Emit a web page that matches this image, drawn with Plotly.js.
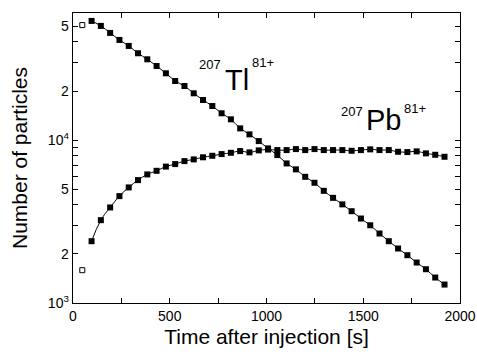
<!DOCTYPE html>
<html>
<head>
<meta charset="utf-8">
<script src="https://cdn.plot.ly/plotly-3.0.1.min.js"></script>
<style>html,body{margin:0;padding:0;background:#fff;}#chart{width:477px;height:356px;}</style>
</head>
<body>
<div id="chart"></div>
<script>
// Time after injection [s]
const timeFilled = [96,144,192,240,288,336,384,432,480,528,576,624,672,720,768,816,864,912,960,1008,
  1056,1104,1152,1200,1248,1296,1344,1392,1440,1488,1536,1584,1632,1680,1728,1776,1824,1872,1920];
const timeOpen = [48];
// 207Tl81+ counts
const tlCounts = [53870,50210,45470,41180,37830,34110,31330,28500,25700,23050,21470,19370,17620,16180,14600,
  13410,11800,10840,9860,8890,8090,7190,6610,5950,5470,4880,4420,4030,3660,3300,3000,2670,2395,2160,1965,
  1772,1612,1433,1298];
// 207Pb81+ counts
const pbCounts = [2395,3224,3859,4529,5122,5679,6155,6477,6874,7122,7430,7610,7840,8010,8204,8356,8560,8404,
  8645,8744,8682,8682,8806,8682,8806,8682,8682,8682,8596,8682,8768,8682,8682,8477,8440,8524,8286,8124,7897];
// open squares at first time bin
const tlOpen = [50800];
const pbOpen = [1590];

const xTickVals = [0,250,500,750,1000,1250,1500,1750,2000];
const xTickText = ["0","","500","","1000","","1500","","2000"];
const yTickVals = [1000,2000,3000,4000,5000,6000,7000,8000,9000,10000,20000,30000,40000,50000];
const yTickText = ["10<sup>3</sup>","2","","","5","","","","","10<sup>4</sup>","2","","","5"];

const FONT = "Liberation Sans, Arial, sans-serif";

const filledMarker = {symbol:'square', size:6, color:'#000'};
const traces = [
  {x: timeFilled, y: tlCounts, mode:'lines+markers', line:{color:'#000', width:1, shape:'spline', smoothing:1}, marker:filledMarker, showlegend:false},
  {x: timeFilled, y: pbCounts, mode:'lines+markers', line:{color:'#000', width:1, shape:'spline', smoothing:1.3}, marker:filledMarker, showlegend:false},
  {x: timeOpen.concat(timeOpen), y: tlOpen.concat(pbOpen), mode:'markers', marker:{symbol:'square-open', size:5, color:'#000', line:{width:1}}, showlegend:false}
];

function lbl(x, yv, text, size, anchor){
  return {x:x, y:Math.log10(yv), xref:'x', yref:'y', text:text, showarrow:false,
    xanchor:anchor || 'center', yanchor:'middle', borderpad:0,
    font:{family:FONT, size:size, color:'#000'}};
}

const layout = {
  width:477, height:356,
  margin:{l:73, r:17, t:13, b:53},
  paper_bgcolor:'#fff', plot_bgcolor:'#fff',
  font:{family:FONT, color:'#000'},
  xaxis:{
    range:[0,2000], showgrid:false, zeroline:false,
    showline:true, linecolor:'#000', linewidth:1.3, mirror:'ticks',
    ticks:'inside', ticklen:5, tickcolor:'#000', tickwidth:1,
    tickmode:'array', tickvals:xTickVals, ticktext:xTickText,
    tickfont:{family:FONT, size:14, color:'#000'},
    title:{text:'Time after injection [s]', font:{family:FONT, size:21, color:'#000'}, standoff:6}
  },
  yaxis:{
    type:'log', range:[3, 4.78], showgrid:false, zeroline:false,
    showline:true, linecolor:'#000', linewidth:1.3, mirror:'ticks',
    ticks:'inside', ticklen:5, tickcolor:'#000', tickwidth:1,
    tickmode:'array', tickvals:yTickVals, ticktext:yTickText,
    tickfont:{family:FONT, size:14, color:'#000'},
    title:{text:'Number of particles', font:{family:FONT, size:21, color:'#000'}, standoff:14}
  },
  annotations:[
    lbl(845, 23380, 'Tl', 29),
    lbl(768, 29120, '207', 13, 'right'),
    lbl(922, 29960, '81+', 13, 'left'),
    lbl(1605, 13270, 'Pb', 29),
    lbl(1502, 15080, '207', 13, 'right'),
    lbl(1707, 15730, '81+', 13, 'left')
  ]
};

Plotly.newPlot('chart', traces, layout, {displayModeBar:false, staticPlot:true});
</script>
</body>
</html>
